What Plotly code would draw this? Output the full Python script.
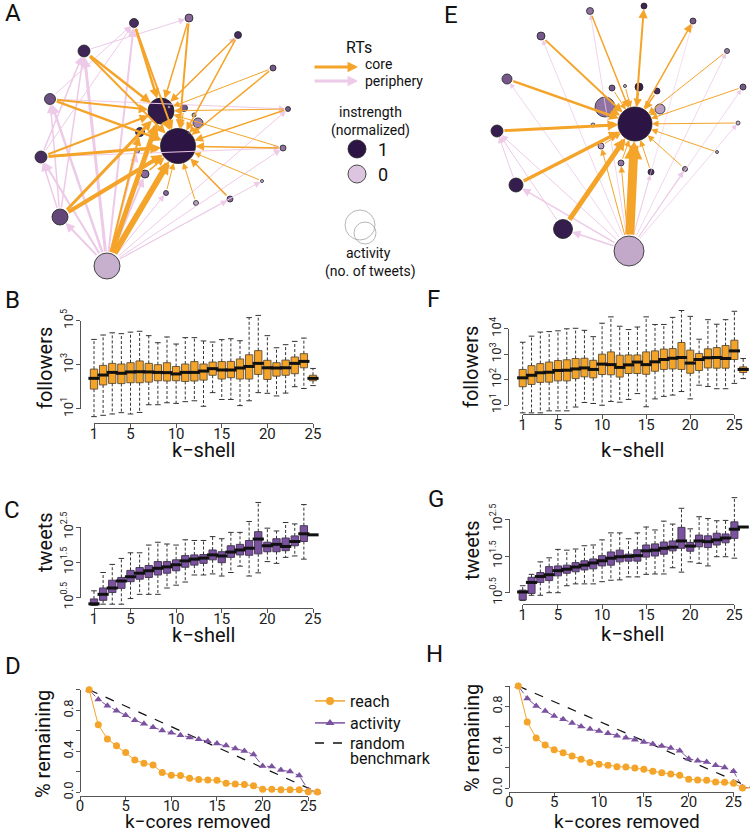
import plotly.graph_objects as go

W, H = 750, 833
FONT = "Roboto"
ORANGE = "#F5A42A"
PURPLE = "#7B52A0"
PINK = "#EDCAE7"
AX = "#555555"

# ---------------- network data (layout positions of nodes) ----------------
a_node_x = [134, 189, 238, 84, 273, 50, 288, 161, 184, 169, 194, 198, 140, 178, 189, 137, 283, 41, 145, 262, 166, 196, 230, 60, 107]
a_node_y = [23, 18, 35, 51, 68, 99, 109, 111, 108, 107, 115, 123, 132, 146, 133, 151, 148, 157, 174, 181, 193, 203, 199, 217, 266]
a_activity = [9, 8, 7, 12, 6, 11, 5, 26, 7, 3, 4, 10, 9, 35, 2, 5, 6, 12, 8, 3, 5, 5, 6, 16, 26]
a_instrength = [0.85, 0.5, 0.85, 0.9, 0.6, 0.65, 0.6, 0.97, 0.6, 0.1, 0.2, 0.35, 0.85, 1.0, 0.1, 0.2, 0.45, 0.85, 0.5, 0.1, 0.5, 0.2, 0.5, 0.7, 0.12]
a_core_edges = [(0, 7, 2.5), (0, 13, 2), (1, 7, 1.5), (1, 13, 2), (2, 7, 1.5), (2, 13, 1.5), (3, 7, 2.5), (3, 13, 2),
                (4, 7, 1), (4, 13, 1.5), (5, 7, 2), (5, 13, 2.5), (6, 13, 1.5), (6, 7, 1), (16, 13, 1.5), (16, 7, 1),
                (17, 13, 3), (17, 7, 2), (23, 13, 4), (23, 7, 3), (24, 13, 6), (24, 7, 5), (19, 13, 1), (22, 13, 1.5),
                (21, 13, 1), (20, 13, 1), (18, 13, 1.5), (12, 13, 1.5), (11, 13, 1), (7, 13, 3), (8, 13, 1), (15, 13, 1),
                (24, 12, 2)]
a_periph_edges = [(24, 5, 2.5), (24, 3, 3), (24, 0, 2), (24, 17, 2), (24, 23, 2), (24, 19, 1), (24, 22, 1), (24, 16, 1),
                  (24, 6, 1), (24, 20, 1), (24, 18, 2), (24, 15, 1.5), (17, 3, 1.5), (17, 0, 1), (5, 0, 1), (23, 17, 1.5),
                  (23, 5, 1.5), (3, 1, 1), (5, 6, 1), (17, 16, 1), (7, 2, 1), (23, 3, 1.5)]

e_node_x = [590, 644, 693, 541, 727, 507, 612, 625, 639, 657, 743, 605, 660, 635, 593, 738, 497, 601, 717, 621, 651, 685, 516, 563, 629]
e_node_y = [11, 6, 21, 36, 51, 79, 88, 86, 87, 91, 87, 107, 109, 124, 125, 123, 131, 146, 152, 163, 172, 169, 185, 229, 251]
e_activity = [7, 6, 6, 8, 5, 10, 6, 3, 8, 6, 6, 20, 10, 34, 4, 4, 12, 6, 3, 6, 6, 5, 14, 19, 30]
e_instrength = [0.45, 0.9, 0.6, 0.6, 0.4, 0.6, 0.6, 0.1, 0.95, 0.85, 0.6, 0.45, 0.2, 1.0, 0.1, 0.1, 0.95, 0.2, 0.1, 0.45, 0.85, 0.35, 0.95, 0.95, 0.15]
e_core_edges = [(23, 13, 5), (24, 13, 9), (22, 13, 3.5), (16, 13, 3), (5, 13, 2.5), (3, 13, 2), (0, 13, 1.5), (13, 1, 2),
                (13, 2, 1.5), (4, 13, 1), (10, 13, 1), (15, 13, 1), (18, 13, 1), (21, 13, 1), (20, 13, 1), (19, 13, 1),
                (17, 13, 1), (14, 13, 1), (11, 13, 2), (6, 13, 1), (7, 13, 1), (8, 13, 1.5), (9, 13, 1.5), (12, 13, 1),
                (24, 19, 1), (24, 17, 1)]
e_periph_edges = [(24, 23, 1.5), (24, 22, 1.5), (24, 16, 1), (24, 5, 0.8), (24, 3, 0.8), (24, 0, 0.8), (24, 10, 0.8),
                  (24, 21, 1), (24, 4, 0.8), (24, 20, 0.8), (23, 16, 1), (22, 16, 1), (24, 15, 0.8), (24, 2, 0.6)]

# ---------------- box data (log10 values) ----------------
b_kshell = list(range(1, 26))
b_upper = [4.15, 4.35, 4.45, 4.41, 4.48, 4.52, 4.32, 4.00, 4.26, 3.94, 4.23, 4.23, 4.08, 4.03, 4.14, 4.18, 4.09, 5.14, 5.24, 4.32, 3.77, 3.91, 4.06, 4.21, 2.83]
b_q3 = [2.80, 2.97, 3.06, 3.03, 3.09, 3.17, 3.06, 3.00, 3.09, 2.92, 3.03, 3.14, 3.03, 3.12, 3.14, 3.15, 3.26, 3.45, 3.64, 3.20, 3.09, 3.21, 3.35, 3.50, 2.52]
b_med = [2.38, 2.53, 2.65, 2.61, 2.67, 2.68, 2.67, 2.65, 2.64, 2.58, 2.65, 2.65, 2.71, 2.82, 2.76, 2.76, 2.85, 2.92, 3.06, 2.86, 2.85, 2.86, 3.06, 3.15, 2.38]
b_q1 = [1.89, 2.08, 2.15, 2.14, 2.18, 2.18, 2.21, 2.27, 2.26, 2.27, 2.24, 2.26, 2.30, 2.52, 2.35, 2.41, 2.35, 2.35, 2.56, 2.33, 2.48, 2.52, 2.59, 2.86, 2.27]
b_lower = [0.64, 0.70, 0.76, 0.82, 0.76, 0.83, 1.18, 1.18, 1.27, 1.24, 1.32, 1.36, 1.11, 1.73, 1.42, 1.42, 1.14, 1.36, 1.73, 1.70, 1.58, 1.71, 2.00, 1.92, 2.05]

f_kshell = list(range(1, 27))
f_upper = [3.47, 3.71, 3.87, 3.89, 3.92, 4.00, 4.02, 3.94, 3.69, 4.22, 4.47, 4.10, 3.97, 4.07, 4.47, 4.17, 4.17, 4.45, 4.72, 4.49, 3.59, 4.36, 4.18, 4.36, 4.69, 2.83]
f_q3 = [2.40, 2.55, 2.63, 2.69, 2.75, 2.78, 2.83, 2.84, 2.76, 3.00, 3.09, 2.96, 2.97, 2.97, 3.09, 3.13, 3.20, 3.22, 3.46, 3.16, 3.03, 3.21, 3.26, 3.34, 3.55, 2.50]
f_med = [2.07, 2.17, 2.27, 2.29, 2.36, 2.37, 2.42, 2.46, 2.40, 2.61, 2.59, 2.48, 2.58, 2.69, 2.59, 2.70, 2.79, 2.84, 2.87, 2.65, 2.79, 2.86, 2.87, 2.83, 3.13, 2.40]
f_q1 = [1.72, 1.81, 1.89, 1.90, 1.95, 1.95, 2.04, 2.11, 2.07, 2.20, 2.19, 2.10, 2.24, 2.24, 2.21, 2.33, 2.40, 2.42, 2.40, 2.25, 2.36, 2.46, 2.45, 2.45, 2.79, 2.28]
f_lower = [0.69, 0.69, 0.69, 0.77, 0.77, 0.77, 0.92, 1.10, 1.06, 0.99, 1.14, 1.11, 1.22, 1.45, 0.93, 1.24, 1.34, 1.39, 1.53, 1.24, 1.78, 1.73, 1.64, 1.64, 1.85, 2.04]

c_kshell = list(range(1, 26))
c_upper = [0.69, 1.21, 1.44, 1.61, 1.77, 1.77, 1.99, 2.07, 2.02, 1.99, 2.14, 2.12, 2.12, 2.23, 2.17, 2.35, 2.35, 2.66, 3.20, 2.47, 2.39, 2.63, 2.59, 3.14, 2.28]
c_q3 = [0.46, 0.77, 0.99, 1.07, 1.27, 1.35, 1.41, 1.52, 1.52, 1.57, 1.69, 1.71, 1.72, 1.85, 1.80, 1.97, 2.01, 2.12, 2.37, 2.07, 2.17, 2.19, 2.25, 2.54, 2.28]
c_med = [0.32, 0.59, 0.77, 0.97, 1.09, 1.19, 1.26, 1.33, 1.37, 1.43, 1.54, 1.59, 1.62, 1.71, 1.68, 1.79, 1.85, 1.90, 2.16, 1.97, 2.01, 1.95, 2.09, 2.31, 2.28]
c_q1 = [0.28, 0.42, 0.64, 0.76, 0.95, 1.02, 1.07, 1.14, 1.19, 1.26, 1.36, 1.42, 1.47, 1.57, 1.49, 1.64, 1.71, 1.70, 1.74, 1.80, 1.80, 1.83, 1.97, 2.09, 2.28]
c_lower = [0.28, 0.31, 0.31, 0.31, 0.47, 0.59, 0.59, 0.59, 0.77, 0.85, 0.94, 1.14, 1.14, 1.17, 1.11, 1.21, 1.39, 1.11, 1.20, 1.52, 1.47, 1.64, 1.68, 1.59, 2.28]

g_kshell = list(range(1, 27))
g_upper = [0.69, 1.00, 1.34, 1.45, 1.68, 1.66, 1.69, 1.78, 1.80, 1.94, 2.13, 2.13, 1.97, 2.13, 2.29, 2.21, 2.45, 2.37, 2.80, 2.24, 2.57, 2.52, 2.46, 2.47, 3.09, 2.29]
g_q3 = [0.57, 0.92, 1.05, 1.21, 1.23, 1.25, 1.32, 1.37, 1.42, 1.51, 1.61, 1.66, 1.55, 1.67, 1.80, 1.83, 1.88, 1.91, 2.28, 1.87, 2.07, 2.05, 2.12, 2.10, 2.43, 2.29]
g_med = [0.52, 0.78, 0.94, 0.99, 1.10, 1.14, 1.20, 1.25, 1.31, 1.37, 1.44, 1.48, 1.49, 1.51, 1.64, 1.66, 1.71, 1.74, 1.91, 1.77, 1.91, 1.89, 1.94, 1.99, 2.23, 2.29]
g_q1 = [0.30, 0.48, 0.78, 0.83, 0.96, 1.03, 1.07, 1.12, 1.15, 1.23, 1.25, 1.34, 1.36, 1.36, 1.47, 1.50, 1.55, 1.64, 1.71, 1.63, 1.75, 1.73, 1.80, 1.86, 1.98, 2.29]
g_lower = [0.29, 0.43, 0.43, 0.50, 0.50, 0.69, 0.74, 0.74, 0.74, 0.80, 0.84, 0.85, 0.93, 0.93, 1.00, 1.01, 1.01, 1.18, 1.06, 1.34, 1.30, 1.23, 1.48, 1.48, 1.44, 2.29]

# ---------------- k-core removal data ----------------
d_removed = list(range(1, 27))
d_reach = [1.0, 0.658, 0.521, 0.453, 0.388, 0.316, 0.283, 0.267, 0.192, 0.166, 0.163, 0.137, 0.124, 0.12, 0.117, 0.088, 0.081, 0.075, 0.065, 0.029, 0.029, 0.026, 0.026, 0.026, 0.006, 0.003]
d_activity = [1.0, 0.906, 0.844, 0.795, 0.752, 0.704, 0.668, 0.635, 0.603, 0.58, 0.557, 0.534, 0.518, 0.498, 0.476, 0.456, 0.427, 0.404, 0.368, 0.257, 0.251, 0.218, 0.202, 0.163, 0.023, 0.003]
d_random_x = [1, 26]
d_random_y = [1.0, 0.0]

h_removed = list(range(1, 28))
h_reach = [1.0, 0.647, 0.49, 0.421, 0.376, 0.346, 0.313, 0.281, 0.251, 0.232, 0.222, 0.209, 0.206, 0.196, 0.183, 0.163, 0.15, 0.137, 0.124, 0.085, 0.078, 0.075, 0.059, 0.056, 0.046, 0.0, 0.0]
h_activity = [1.0, 0.878, 0.803, 0.754, 0.705, 0.673, 0.637, 0.604, 0.578, 0.558, 0.536, 0.513, 0.493, 0.473, 0.451, 0.431, 0.411, 0.392, 0.366, 0.287, 0.268, 0.255, 0.222, 0.202, 0.163, 0.007, 0.0]
h_random_x = [1, 27]
h_random_y = [1.0, 0.0]

kshell_ticks = [1, 5, 10, 15, 20, 25]
removed_ticks = [0, 5, 10, 15, 20, 25]

# ---------------- helpers ----------------
fig = go.Figure()
axes = {}


def fx(px):
    return min(1.0, max(0.0, px / W))


def fy(py):
    return min(1.0, max(0.0, 1 - py / H))


def names(n):
    if n == 1:
        return "xaxis", "yaxis", "x", "y"
    return f"xaxis{n}", f"yaxis{n}", f"x{n}", f"y{n}"


def data_axes(n, xr, xp0, xv0, xs, yr, yp0, yv0, ys):
    xa, ya, xref, yref = names(n)
    axes[xa] = dict(domain=[fx(xp0 + (xr[0] - xv0) * xs), fx(xp0 + (xr[1] - xv0) * xs)], range=xr,
                    visible=False, anchor=yref, fixedrange=True, automargin=False)
    axes[ya] = dict(domain=[fy(yp0 - (yr[0] - yv0) * ys), fy(yp0 - (yr[1] - yv0) * ys)], range=yr,
                    visible=False, anchor=xref, fixedrange=True, automargin=False)
    return xref, yref


def disp_axes(n, xr, xp0, xv0, xs, x_at, xt, xtt, yr, yp0, yv0, ys, y_at, yt, ytt, minor_dtick=None, xstand=-7):
    xa, ya, xref, yref = names(n)
    common = dict(showline=True, linecolor=AX, linewidth=1, ticks="outside", ticklen=4, tickwidth=1,
                  tickcolor=AX, showgrid=False, zeroline=False, fixedrange=True, anchor="free", automargin=False)
    axes[xa] = dict(domain=[fx(xp0 + (xr[0] - xv0) * xs), fx(xp0 + (xr[1] - xv0) * xs)], range=xr,
                    position=fy(x_at), tickmode="array", tickvals=xt, ticktext=xtt, ticklabelstandoff=xstand,
                    tickfont=dict(size=15, color="#222"), **common)
    ydict = dict(domain=[fy(yp0 - (yr[0] - yv0) * ys), fy(yp0 - (yr[1] - yv0) * ys)], range=yr,
                 position=fx(y_at), tickmode="array", tickvals=yt, ticktext=ytt, tickangle=-90,
                 ticklabelstandoff=-2, tickfont=dict(size=13, color="#222"), **common)
    if minor_dtick:
        ydict["minor"] = dict(ticks="outside", ticklen=4, tickwidth=1, tickcolor=AX, dtick=minor_dtick, tick0=0,
                              showgrid=False)
    axes[ya] = ydict
    fig.add_trace(go.Scatter(x=[None], y=[None], xaxis=xref, yaxis=yref, showlegend=False, hoverinfo="skip"))


def boxes(xref, yref, k, up, q3, med, q1, lo, fill, edge):
    fig.add_trace(go.Box(x=k, q1=q1, median=med, q3=q3, lowerfence=q1, upperfence=q3, width=0.8,
                         fillcolor=fill, line=dict(color=edge, width=1), whiskerwidth=0, boxpoints=False,
                         xaxis=xref, yaxis=yref, showlegend=False, hoverinfo="skip"))
    wx, wy = [], []
    for i in range(len(k)):
        wx += [k[i], k[i], None, k[i], k[i], None]
        wy += [q3[i], up[i], None, q1[i], lo[i], None]
    fig.add_trace(go.Scatter(x=wx, y=wy, mode="lines", line=dict(color="#333", width=1, dash="3px,2px"),
                             xaxis=xref, yaxis=yref, showlegend=False, hoverinfo="skip"))
    fig.add_trace(go.Scatter(x=k + k, y=up + lo, mode="markers",
                             marker=dict(symbol="line-ew", size=4, line=dict(color="#333", width=1)),
                             xaxis=xref, yaxis=yref, showlegend=False, hoverinfo="skip", cliponaxis=False))
    fig.add_trace(go.Scatter(x=k, y=med, mode="markers",
                             marker=dict(symbol="line-ew", size=8, line=dict(color="#111", width=3)),
                             xaxis=xref, yaxis=yref, showlegend=False, hoverinfo="skip", cliponaxis=False))


def head(w):
    return max(0.4, min(1.3, 1.5 / w ** 0.7))


annotations = []


def edges(nx, ny, nd, elist, color):
    for s, t, w in elist:
        annotations.append(dict(x=nx[t], y=ny[t], ax=nx[s], ay=ny[s], xref="x", yref="y", axref="x", ayref="y",
                                showarrow=True, arrowhead=2, arrowsize=head(w), arrowwidth=w, arrowcolor=color,
                                standoff=nd[t] / 2, startstandoff=nd[s] / 2, text=""))


NODE_SCALE = [[0, "#DCC5DE"], [0.5, "#86699A"], [1, "#2C1444"]]

# ---------------- network panels ----------------
axes["xaxis"] = dict(domain=[0, 1], range=[0, 750], visible=False, fixedrange=True, anchor="y", automargin=False)
axes["yaxis"] = dict(domain=[fy(290), 1], range=[290, 0], visible=False, fixedrange=True, anchor="x", automargin=False)

edges(a_node_x, a_node_y, a_activity, a_periph_edges, PINK)
edges(e_node_x, e_node_y, e_activity, e_periph_edges, PINK)
edges(a_node_x, a_node_y, a_activity, a_core_edges, ORANGE)
edges(e_node_x, e_node_y, e_activity, e_core_edges, ORANGE)

for nx, ny, act, ins in [(a_node_x, a_node_y, a_activity, a_instrength), (e_node_x, e_node_y, e_activity, e_instrength)]:
    fig.add_trace(go.Scatter(x=nx, y=ny, mode="markers", xaxis="x", yaxis="y", showlegend=False, hoverinfo="skip",
                             cliponaxis=False,
                             marker=dict(size=act, color=ins, colorscale=NODE_SCALE, cmin=0, cmax=1,
                                         line=dict(color="#222", width=0.8), opacity=1)))

# network legend
annotations.append(dict(x=358, y=67, ax=313, ay=67, xref="x", yref="y", axref="x", ayref="y", showarrow=True,
                        arrowhead=2, arrowsize=head(3), arrowwidth=3, arrowcolor=ORANGE, text=""))
annotations.append(dict(x=358, y=81, ax=313, ay=81, xref="x", yref="y", axref="x", ayref="y", showarrow=True,
                        arrowhead=2, arrowsize=head(3), arrowwidth=3, arrowcolor=PINK, text=""))
legend_instrength = [1, 0]
fig.add_trace(go.Scatter(x=[357, 357], y=[149, 174], mode="markers", xaxis="x", yaxis="y", showlegend=False,
                         hoverinfo="skip",
                         marker=dict(size=18, color=legend_instrength, colorscale=NODE_SCALE, cmin=0, cmax=1,
                                     line=dict(color="#222", width=0.8))))
legend_activity = [30, 22]
fig.add_trace(go.Scatter(x=[360, 365], y=[225, 233], mode="markers", xaxis="x", yaxis="y", showlegend=False,
                         hoverinfo="skip",
                         marker=dict(size=legend_activity, color="rgba(0,0,0,0)", line=dict(color="#9a9a9a", width=1))))


def txt(x, y, s, size=14, xanchor="center", angle=0):
    annotations.append(dict(x=fx(x), y=fy(y), text=s, showarrow=False, xref="paper", yref="paper",
                            xanchor=xanchor, yanchor="middle", textangle=angle, borderpad=0,
                            font=dict(size=size, color="#111", family=FONT)))


txt(359, 48, "RTs", 16)
txt(364, 64, "core", 14, "left")
txt(364, 81, "periphery", 14, "left")
txt(370, 112, "instrength", 14)
txt(370, 130, "(normalized)", 14)
txt(383, 149, "1", 18)
txt(383, 174, "0", 18)
txt(368, 253, "activity", 14)
txt(370, 271, "(no. of tweets)", 14)

# ---------------- panel B ----------------
xr, yr = data_axes(2, [-0.5, 26.5], 94, 1, 9.125, [0.3, 5.6], 364.7, 3, 22)
boxes(xr, yr, b_kshell, b_upper, b_q3, b_med, b_q1, b_lower, ORANGE, "#6e5a3a")
disp_axes(3, [1, 25], 94, 1, 9.125, 422.7, kshell_ticks, [str(v) for v in kshell_ticks],
          [1, 5], 364.7, 3, 22, 80, [1, 3, 5], ["10<sup>1</sup>", "10<sup>3</sup>", "10<sup>5</sup>"])

# ---------------- panel C ----------------
xr, yr = data_axes(4, [-0.5, 26.5], 94, 1, 9.125, [0.1, 3.4], 562.3, 1.5, 35.2)
boxes(xr, yr, c_kshell, c_upper, c_q3, c_med, c_q1, c_lower, PURPLE, "#4a3a5a")
disp_axes(5, [1, 25], 94, 1, 9.125, 608.3, kshell_ticks, [str(v) for v in kshell_ticks],
          [0.5, 2.5], 562.3, 1.5, 35.2, 80, [0.5, 1.5, 2.5],
          ["10<sup>0.5</sup>", "10<sup>1.5</sup>", "10<sup>2.5</sup>"])

# ---------------- panel D ----------------
xr, yr = data_axes(6, [0, 27], 80, 0, 9.133, [-0.04, 1.04], 792.3, 0, 102.5)
fig.add_trace(go.Scatter(x=d_random_x, y=d_random_y, mode="lines", line=dict(color="#111", width=1.2, dash="dash"),
                         xaxis=xr, yaxis=yr, showlegend=False, hoverinfo="skip"))
fig.add_trace(go.Scatter(x=d_removed, y=d_activity, mode="lines+markers", line=dict(color=PURPLE, width=1, dash="dashdot"),
                         marker=dict(symbol="triangle-up", size=7, color=PURPLE), cliponaxis=False,
                         xaxis=xr, yaxis=yr, showlegend=False, hoverinfo="skip"))
fig.add_trace(go.Scatter(x=d_removed, y=d_reach, mode="lines+markers", line=dict(color=ORANGE, width=1),
                         marker=dict(symbol="circle", size=7, color=ORANGE), cliponaxis=False,
                         xaxis=xr, yaxis=yr, showlegend=False, hoverinfo="skip"))
# legend entries (one legend box per entry so each row sits where the reference has it)
fig.add_trace(go.Scatter(x=[None], y=[None], mode="lines+markers", name="reach", line=dict(color=ORANGE, width=1.5),
                         marker=dict(symbol="circle", size=8, color=ORANGE), xaxis=xr, yaxis=yr, legend="legend"))
fig.add_trace(go.Scatter(x=[None], y=[None], mode="lines+markers", name="activity", line=dict(color=PURPLE, width=1.5),
                         marker=dict(symbol="triangle-up", size=8, color=PURPLE), xaxis=xr, yaxis=yr, legend="legend2"))
fig.add_trace(go.Scatter(x=[None], y=[None], mode="lines", name="random",
                         line=dict(color="#111", width=1.5, dash="dash"), xaxis=xr, yaxis=yr, legend="legend3"))
disp_axes(7, [0, 25], 80, 0, 9.133, 796.4, removed_ticks, [str(v) for v in removed_ticks],
          [0, 1], 792.3, 0, 102.5, 80, [0, 0.4, 0.8], ["0.0", "0.4", "0.8"], minor_dtick=0.2, xstand=-8)
txt(349, 758, "benchmark", 16, "left")

# ---------------- panel F ----------------
xr, yr = data_axes(8, [-0.5, 26.7], 522.7, 1, 8.82, [0.4, 4.9], 405, 1, 25.4)
boxes(xr, yr, f_kshell, f_upper, f_q3, f_med, f_q1, f_lower, ORANGE, "#6e5a3a")
disp_axes(9, [1, 25], 522.7, 1, 8.82, 414, kshell_ticks, [str(v) for v in kshell_ticks],
          [1, 4], 405, 1, 25.4, 508.3, [1, 2, 3, 4],
          ["10<sup>1</sup>", "10<sup>2</sup>", "10<sup>3</sup>", "10<sup>4</sup>"])

# ---------------- panel G ----------------
xr, yr = data_axes(10, [-0.5, 26.7], 522.7, 1, 8.82, [0.1, 3.3], 556, 1.5, 36.7)
boxes(xr, yr, g_kshell, g_upper, g_q3, g_med, g_q1, g_lower, PURPLE, "#4a3a5a")
disp_axes(11, [1, 25], 522.7, 1, 8.82, 604, kshell_ticks, [str(v) for v in kshell_ticks],
          [0.5, 2.5], 556, 1.5, 36.7, 509, [0.5, 1.5, 2.5],
          ["10<sup>0.5</sup>", "10<sup>1.5</sup>", "10<sup>2.5</sup>"])

# ---------------- panel H ----------------
xr, yr = data_axes(12, [-0.04, 26.8], 509.3, 0, 8.97, [-0.04, 1.04], 788, 0, 102)
fig.add_trace(go.Scatter(x=h_random_x, y=h_random_y, mode="lines", line=dict(color="#111", width=1.2, dash="dash"),
                         xaxis=xr, yaxis=yr, showlegend=False, hoverinfo="skip"))
fig.add_trace(go.Scatter(x=h_removed, y=h_activity, mode="lines+markers", line=dict(color=PURPLE, width=1, dash="dashdot"),
                         marker=dict(symbol="triangle-up", size=7, color=PURPLE), cliponaxis=False,
                         xaxis=xr, yaxis=yr, showlegend=False, hoverinfo="skip"))
fig.add_trace(go.Scatter(x=h_removed, y=h_reach, mode="lines+markers", line=dict(color=ORANGE, width=1),
                         marker=dict(symbol="circle", size=7, color=ORANGE), cliponaxis=False,
                         xaxis=xr, yaxis=yr, showlegend=False, hoverinfo="skip"))
disp_axes(13, [0, 25], 509.3, 0, 8.97, 792.3, removed_ticks, [str(v) for v in removed_ticks],
          [0, 1], 788, 0, 102, 509, [0, 0.4, 0.8], ["0.0", "0.4", "0.8"], minor_dtick=0.2, xstand=-8)

# ---------------- titles & panel letters ----------------
for lx, ly, s in [(13, 13, "A"), (451, 15, "E"), (12, 300, "B"), (433, 299, "F"), (12, 510, "C"),
                  (436, 499, "G"), (13, 666, "D"), (435, 654, "H")]:
    txt(lx, ly, s, 24)

txt(45, 368, "followers", 20, angle=-90)
txt(203, 450, "k\u2212shell", 20)
txt(471, 367, "followers", 20, angle=-90)
txt(632, 450, "k\u2212shell", 20)
txt(45, 542, "tweets", 20, angle=-90)
txt(203, 635, "k\u2212shell", 20)
txt(472, 550, "tweets", 20, angle=-90)
txt(632, 634, "k\u2212shell", 20)
txt(43, 744, "% remaining", 20, angle=-90)
txt(198, 821, "k\u2212cores removed", 19)
txt(472, 738, "% remaining", 20, angle=-90)
txt(627, 821, "k\u2212cores removed", 19)

leg_common = dict(x=fx(310), xanchor="left", yanchor="top", font=dict(size=16, family=FONT, color="#111"),
                  bgcolor="rgba(0,0,0,0)", itemwidth=30, tracegroupgap=0, valign="middle")

fig.update_layout(
    width=W, height=H, autosize=False,
    margin=dict(l=0, r=0, t=0, b=0, pad=0, autoexpand=False),
    paper_bgcolor="white", plot_bgcolor="rgba(0,0,0,0)",
    font=dict(family=FONT, color="#111"),
    showlegend=True,
    legend=dict(y=fy(684), **leg_common),
    legend2=dict(y=fy(706), **leg_common),
    legend3=dict(y=fy(726), **leg_common),
    annotations=annotations,
    **axes,
)

# the page's default 8px body margin would shift and crop the fixed-size figure
fig.write_html("out.html", config={"displayModeBar": False, "staticPlot": True},
               post_script="document.body.style.margin='0px';")
